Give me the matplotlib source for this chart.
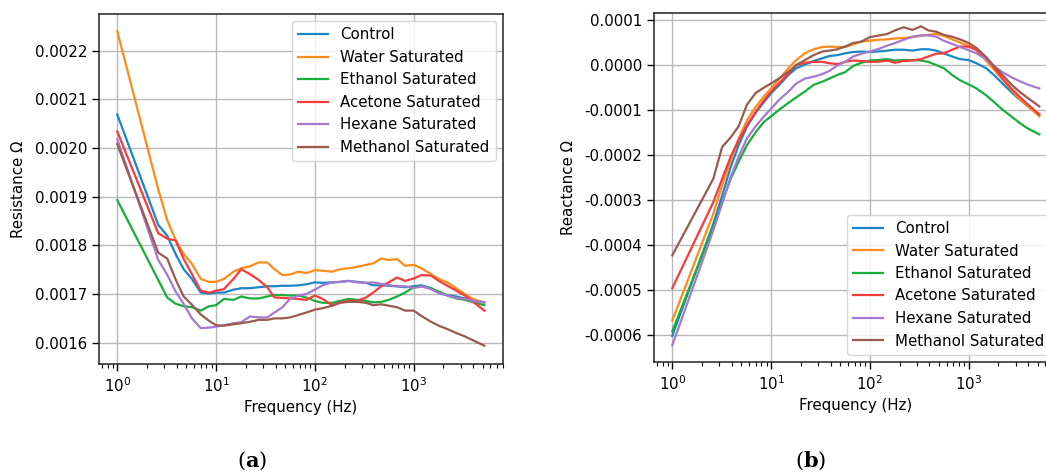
import matplotlib
matplotlib.use("Agg")
import matplotlib.pyplot as plt
import numpy as np
from matplotlib.ticker import FormatStrFormatter, LogLocator

# ---------------- data ----------------
freq = [1, 2.6, 3.2, 3.9, 4.7, 5.7, 7, 8.5,
        10, 12, 15, 18, 22, 27, 33, 39, 47, 56, 68, 82,
        100, 120, 150, 180, 220, 270, 330, 390, 470, 560, 680, 820,
        1000, 1200, 1500, 1800, 2200, 2700, 3300, 3900, 5200]

labels = ["Control", "Water Saturated", "Ethanol Saturated",
          "Acetone Saturated", "Hexane Saturated", "Methanol Saturated"]

# Resistance (x 1e-4 Ohm)
res_control = [20.69, 18.42, 18.2, 17.82, 17.51, 17.31, 17.03, 17.01,
               17.03, 17.03, 17.09, 17.12, 17.12, 17.14, 17.16, 17.16, 17.17, 17.17, 17.18, 17.2,
               17.24, 17.23, 17.24, 17.25, 17.27, 17.25, 17.23, 17.18, 17.18, 17.17, 17.16, 17.14,
               17.16, 17.18, 17.12, 17.02, 16.98, 16.95, 16.91, 16.88, 16.83]
res_water = [22.4, 19.15, 18.52, 18.11, 17.82, 17.62, 17.31, 17.25,
             17.25, 17.31, 17.46, 17.53, 17.57, 17.65, 17.65, 17.51, 17.39, 17.40, 17.46, 17.43,
             17.49, 17.48, 17.46, 17.51, 17.53, 17.56, 17.60, 17.63, 17.73, 17.70, 17.72, 17.58,
             17.60, 17.53, 17.41, 17.31, 17.24, 17.12, 17.0, 16.91, 16.82]
res_ethanol = [18.93, 17.29, 16.93, 16.8, 16.75, 16.73, 16.66, 16.75,
               16.77, 16.9, 16.88, 16.95, 16.91, 16.91, 16.95, 16.98, 16.98, 16.97, 16.97, 16.93,
               16.86, 16.82, 16.82, 16.86, 16.9, 16.88, 16.86, 16.83, 16.84, 16.88, 16.95, 17.03,
               17.14, 17.16, 17.12, 17.05, 16.97, 16.91, 16.88, 16.84, 16.77]
res_acetone = [20.34, 18.25, 18.14, 18.1, 17.72, 17.41, 17.07, 17.03,
               17.07, 17.1, 17.31, 17.51, 17.41, 17.29, 17.14, 16.93, 16.92, 16.91, 16.9, 16.88,
               16.97, 16.9, 16.77, 16.83, 16.86, 16.86, 16.93, 17.03, 17.16, 17.24, 17.34, 17.27,
               17.32, 17.39, 17.38, 17.27, 17.17, 17.07, 16.97, 16.86, 16.66]
res_hexane = [20.18, 17.7, 17.4, 17.05, 16.8, 16.5, 16.3, 16.31,
              16.33, 16.36, 16.4, 16.42, 16.54, 16.52, 16.52, 16.62, 16.73, 16.9, 16.97, 17.0,
              17.09, 17.18, 17.24, 17.25, 17.27, 17.24, 17.23, 17.24, 17.21, 17.18, 17.16, 17.16,
              17.12, 17.16, 17.1, 17.02, 16.97, 16.92, 16.9, 16.86, 16.83]
res_methanol = [20.08, 17.85, 17.73, 17.3, 16.95, 16.78, 16.58, 16.45,
                16.36, 16.35, 16.38, 16.4, 16.43, 16.47, 16.47, 16.5, 16.5, 16.52, 16.57, 16.62,
                16.68, 16.71, 16.76, 16.82, 16.84, 16.84, 16.82, 16.77, 16.79, 16.76, 16.73, 16.66,
                16.66, 16.55, 16.43, 16.35, 16.28, 16.2, 16.13, 16.06, 15.94]

# Reactance (x 1e-4 Ohm)
rea_control = [-6.02, -3.53, -2.9, -2.27, -1.78, -1.37, -1.06, -0.82,
               -0.63, -0.45, -0.22, -0.07, 0.01, 0.09, 0.15, 0.2, 0.22, 0.26, 0.29, 0.3,
               0.29, 0.3, 0.32, 0.34, 0.34, 0.32, 0.35, 0.35, 0.32, 0.26, 0.19, 0.13,
               0.11, 0.04, -0.07, -0.22, -0.41, -0.6, -0.77, -0.9, -1.1]
rea_water = [-5.68, -3.31, -2.67, -2.12, -1.63, -1.23, -0.93, -0.69,
             -0.52, -0.32, -0.07, 0.11, 0.26, 0.35, 0.4, 0.41, 0.4, 0.4, 0.46, 0.52,
             0.54, 0.56, 0.57, 0.59, 0.6, 0.62, 0.65, 0.67, 0.69, 0.65, 0.57, 0.5,
             0.43, 0.33, 0.1, -0.1, -0.32, -0.55, -0.76, -0.9, -1.14]
rea_ethanol = [-5.92, -3.6, -3.05, -2.53, -2.15, -1.78, -1.49, -1.26,
               -1.14, -1.0, -0.84, -0.72, -0.59, -0.44, -0.37, -0.3, -0.22, -0.16, -0.02, 0.05,
               0.1, 0.11, 0.13, 0.1, 0.11, 0.11, 0.1, 0.07, 0.0, -0.07, -0.22, -0.34,
               -0.43, -0.52, -0.67, -0.82, -0.99, -1.14, -1.29, -1.4, -1.54]
rea_acetone = [-4.96, -3.05, -2.53, -2.04, -1.67, -1.34, -1.04, -0.78,
               -0.59, -0.41, -0.19, 0.0, 0.05, 0.07, 0.07, 0.04, 0.02, 0.07, 0.1, 0.09,
               0.07, 0.07, 0.1, 0.05, 0.09, 0.1, 0.13, 0.19, 0.25, 0.26, 0.34, 0.41,
               0.41, 0.34, 0.15, -0.05, -0.3, -0.52, -0.71, -0.86, -1.1]
rea_hexane = [-6.23, -3.68, -3.08, -2.49, -2.04, -1.63, -1.36, -1.14,
              -0.97, -0.78, -0.59, -0.41, -0.3, -0.26, -0.2, -0.13, -0.01, 0.07, 0.19, 0.25,
              0.3, 0.35, 0.43, 0.49, 0.56, 0.63, 0.66, 0.66, 0.63, 0.54, 0.47, 0.4,
              0.33, 0.26, 0.13, -0.02, -0.16, -0.27, -0.36, -0.43, -0.52]
rea_methanol = [-4.23, -2.53, -1.82, -1.61, -1.36, -0.88, -0.62, -0.50,
                -0.41, -0.3, -0.15, 0.0, 0.11, 0.22, 0.3, 0.32, 0.35, 0.41, 0.49, 0.52,
                0.62, 0.65, 0.69, 0.77, 0.84, 0.78, 0.86, 0.77, 0.74, 0.67, 0.63, 0.57,
                0.49, 0.38, 0.18, -0.02, -0.22, -0.43, -0.6, -0.72, -0.92]

res_series = [res_control, res_water, res_ethanol, res_acetone, res_hexane, res_methanol]
rea_series = [rea_control, rea_water, rea_ethanol, rea_acetone, rea_hexane, rea_methanol]

colors = ["#1a86c8", "#ff8c1a", "#18ae3a", "#f53b3b", "#a678d2", "#9b5a4e"]

# ---------------- figure ----------------
plt.rcParams["font.family"] = ["DejaVu Sans"]
plt.rcParams["font.size"] = 10.8
plt.rcParams["mathtext.fontset"] = "dejavuserif"

W, H = 1046, 472
fig = plt.figure(figsize=(W / 100, H / 100), dpi=100)

ax1 = fig.add_axes([99 / W, (H - 364) / H, 404 / W, 350 / H])
ax2 = fig.add_axes([654 / W, (H - 362) / H, 404 / W, 349 / H])

f = np.array(freq)
for ax, series, scale in ((ax1, res_series, 1e-4), (ax2, rea_series, 1e-4)):
    for lab, vals, c in zip(labels, series, colors):
        ax.plot(f, np.array(vals) * scale, color=c, lw=1.6, label=lab)
    ax.set_xscale("log")
    ax.grid(True, color="#b8b8b8", lw=1.0)
    ax.set_axisbelow(True)
    ax.set_xlabel("Frequency (Hz)", labelpad=4)
    ax.yaxis.set_major_formatter(FormatStrFormatter("%.4f"))
    for s in ax.spines.values():
        s.set_linewidth(1.1)
        s.set_color("#222222")
    ax.tick_params(which="major", length=5, width=1)
    ax.tick_params(which="minor", length=3, width=0.8)
    ax.set_xlim(10 ** -0.185, 10 ** 3.905)
    ax.xaxis.set_major_locator(LogLocator(base=10, numticks=10))

ax1.set_ylim(0.0015563, 0.0022754)
ax1.set_yticks([0.0016, 0.0017, 0.0018, 0.0019, 0.0020, 0.0021, 0.0022])
ax1.set_ylabel("Resistance \u03a9", labelpad=6)
ax1.legend(loc="upper right", fontsize=10.8, framealpha=0.8, edgecolor="#cccccc",
           fancybox=True, handlelength=2.0, borderaxespad=0.5)

ax2.set_ylim(-0.00066, 0.0001156)
ax2.set_yticks([-0.0006, -0.0005, -0.0004, -0.0003, -0.0002, -0.0001, 0.0, 0.0001])
ax2.set_ylabel("Reactance \u03a9", labelpad=6)
ax2.legend(loc="lower right", fontsize=10.8, framealpha=0.8, edgecolor="#cccccc",
           fancybox=True, handlelength=2.0, borderaxespad=0.5)

fig.text(252 / W, 1 - 461 / H, r"($\mathbf{a}$)", ha="center", va="center",
         fontsize=15, family="DejaVu Serif")
fig.text(811 / W, 1 - 461 / H, r"($\mathbf{b}$)", ha="center", va="center",
         fontsize=15, family="DejaVu Serif")

fig.savefig("out.png", dpi=100, facecolor="white")
